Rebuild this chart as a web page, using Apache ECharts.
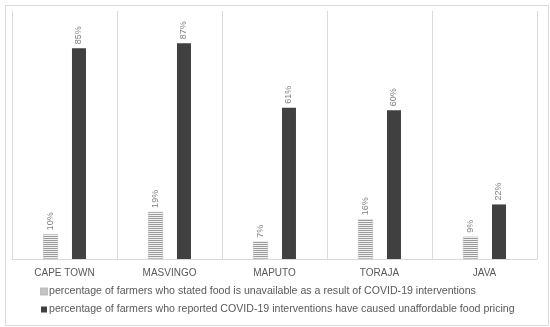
<!DOCTYPE html>
<html><head><meta charset="utf-8">
<script src="https://cdn.jsdelivr.net/npm/echarts@6/dist/echarts.min.js"></script>
<style>html,body{margin:0;padding:0;background:#fff}#c{width:550px;height:327px}</style>
</head><body><div id="c"></div>
<script>
const categories = ['CAPE TOWN', 'MASVINGO', 'MAPUTO', 'TORAJA', 'JAVA'];
const unavailable = [10, 19, 7, 16, 9];
const unaffordable = [85, 87, 61, 60, 22];
const seriesNames = [
  'percentage of farmers who stated food is unavailable as a result of COVID-19 interventions',
  'percentage of farmers who reported COVID-19 interventions have caused unaffordable food pricing'
];

const pc = document.createElement('canvas');
pc.width = 2; pc.height = 2;
const pctx = pc.getContext('2d');
pctx.fillStyle = '#f2f2f2'; pctx.fillRect(0, 0, 2, 2);
pctx.fillStyle = '#9a9a9a'; pctx.fillRect(0, 0, 2, 1);
const stripe = { image: pc, repeat: 'repeat' };

const chart = echarts.init(document.getElementById('c'), null, { renderer: 'canvas' });
const font = '"Liberation Sans", sans-serif';
const labelCfg = {
  show: true, position: 'top', rotate: 90, distance: 4, align: 'left', verticalAlign: 'middle',
  color: '#808080', fontSize: 9, fontFamily: font, formatter: '{c}%'
};
chart.setOption({
  animation: false,
  backgroundColor: '#fff',
  graphic: [{
    type: 'rect', left: 3, top: 3, shape: { width: 543, height: 320 },
    style: { fill: 'none', stroke: '#d9d9d9', lineWidth: 1 }, silent: true
  }],
  grid: { left: 12, right: 13, top: 11, bottom: 68 },
  legend: {
    orient: 'vertical', left: 40, top: 286, padding: 0, itemGap: 7, itemWidth: 6, itemHeight: 6,
    textStyle: { color: '#595959', fontSize: 10.6, fontFamily: font, padding: [0, 0, 0, -3] },
    data: [
      { name: seriesNames[0], icon: 'rect', itemStyle: { color: stripe } },
      { name: seriesNames[1], icon: 'rect' }
    ]
  },
  xAxis: {
    type: 'category', data: categories,
    axisLine: { lineStyle: { color: '#d9d9d9' } },
    axisTick: { show: false },
    splitLine: { show: true, lineStyle: { color: '#d9d9d9' } },
    axisLabel: { color: '#595959', fontSize: 10, fontFamily: font, margin: 9 }
  },
  yAxis: { type: 'value', min: 0, max: 100, show: false, splitLine: { show: false } },
  series: [
    {
      name: seriesNames[0], type: 'bar', data: unavailable, barWidth: 15, barGap: '93%',
      itemStyle: { color: stripe, borderColor: '#bfbfbf', borderWidth: 0.5 },
      label: labelCfg
    },
    {
      name: seriesNames[1], type: 'bar', data: unaffordable, barWidth: 14,
      itemStyle: { color: '#404040' },
      label: labelCfg
    }
  ]
});
</script></body></html>
